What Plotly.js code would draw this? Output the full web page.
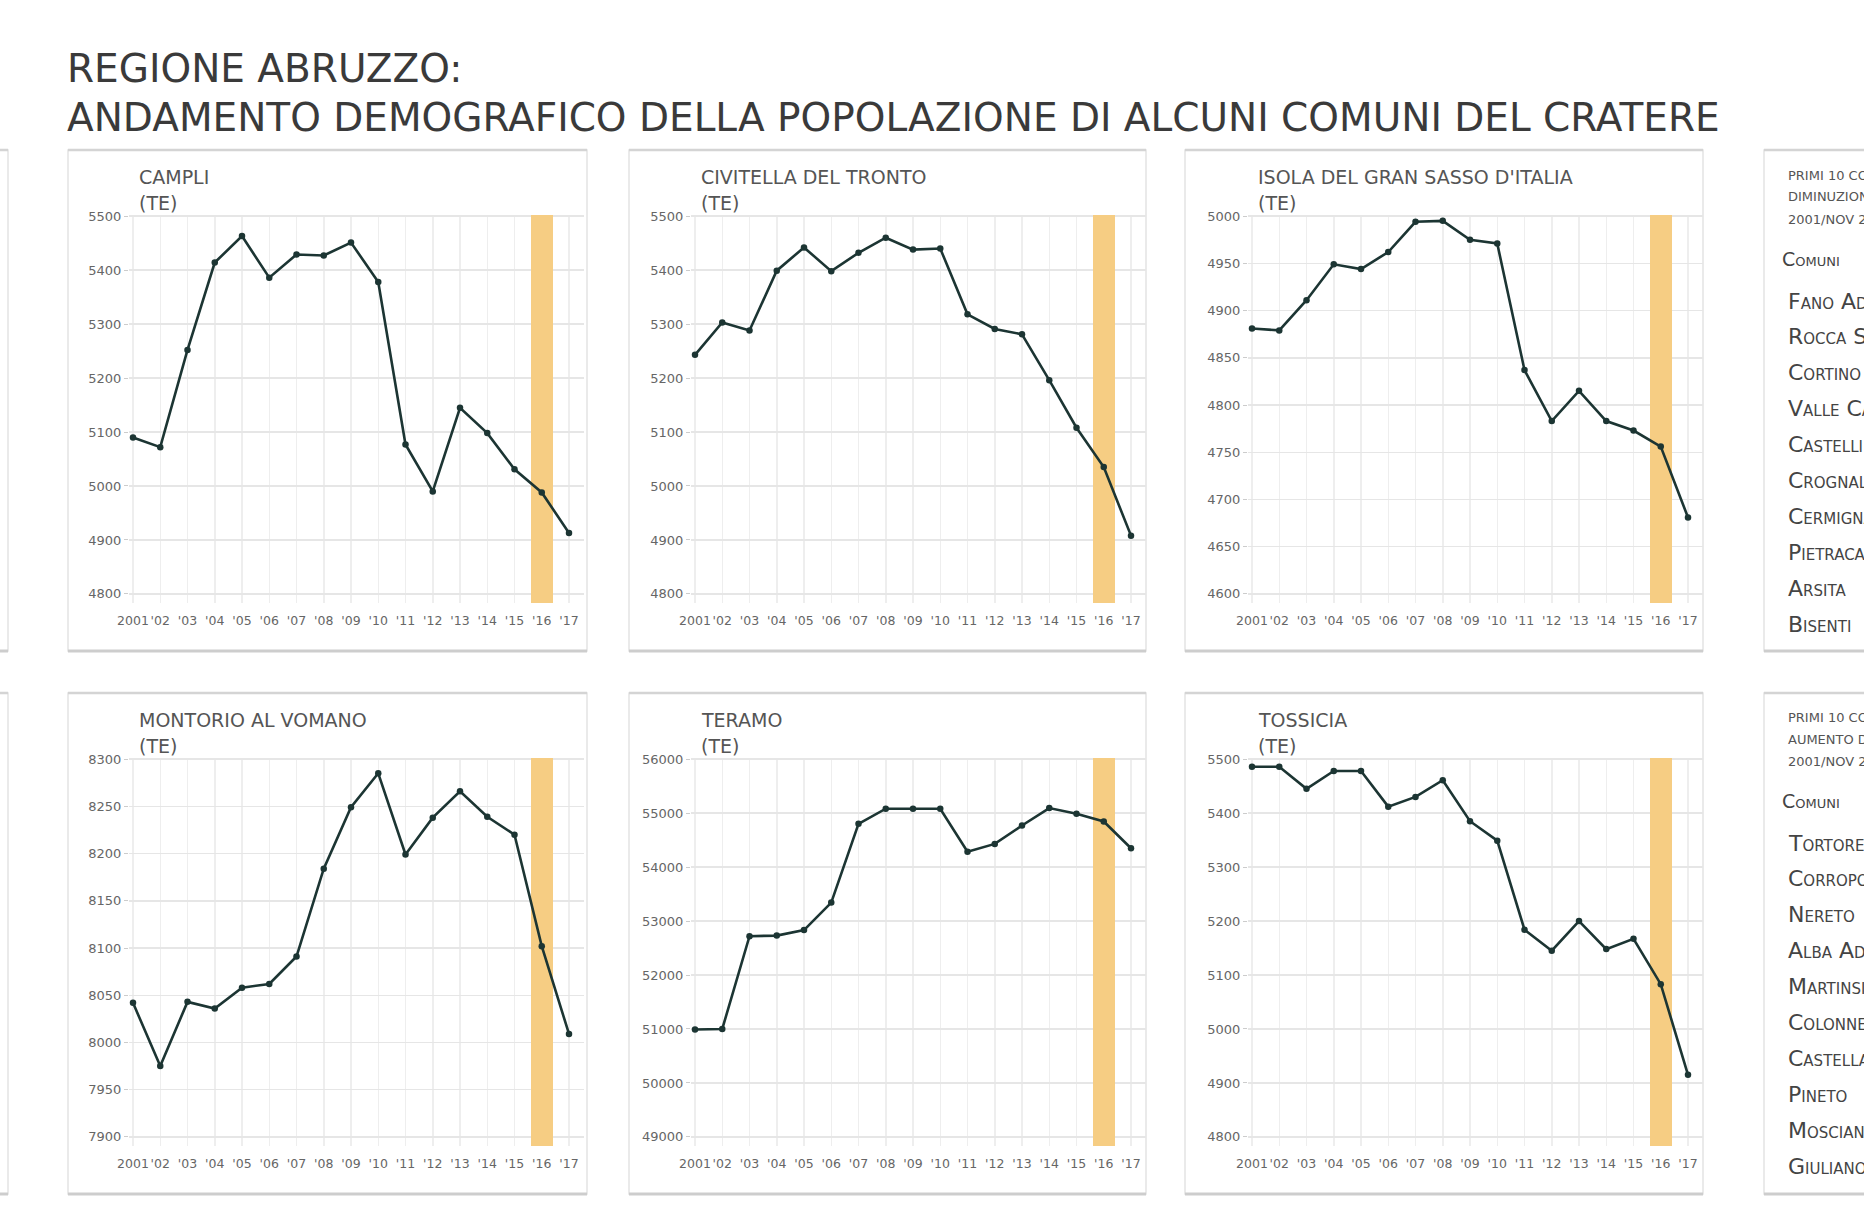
<!DOCTYPE html>
<html>
<head>
<meta charset="utf-8">
<script src="https://cdn.plot.ly/plotly-3.0.1.min.js"></script>
<style>
html,body{margin:0;padding:0;background:#fff;}
#chart{width:1864px;height:1209px;}
</style>
</head>
<body>
<div id="chart"></div>
<script>
// ---------- DATA ----------
const years = [2001,2002,2003,2004,2005,2006,2007,2008,2009,2010,2011,2012,2013,2014,2015,2016,2017];
const yearLabels = ["2001","'02","'03","'04","'05","'06","'07","'08","'09","'10","'11","'12","'13","'14","'15","'16","'17"];

const campli    = [5090,5072,5252,5414,5463,5386,5429,5427,5451,5378,5077,4990,5145,5098,5031,4988,4913];
const civitella = [5243,5303,5288,5399,5442,5398,5432,5460,5438,5440,5318,5291,5281,5196,5108,5035,4908];
const isola     = [4881,4879,4911,4949,4944,4962,4994,4995,4975,4971,4837,4783,4815,4783,4773,4756,4681];
const montorio  = [8042,7975,8043,8036,8058,8062,8091,8184,8249,8285,8199,8238,8266,8239,8220,8102,8009];
const teramo    = [50990,51000,52720,52730,52832,53342,54801,55081,55081,55081,54286,54429,54770,55093,54988,54845,54348];
const tossicia  = [5486,5486,5445,5478,5478,5412,5430,5461,5385,5349,5184,5145,5200,5148,5167,5083,4915];

const panelNames = ["CAMPLI","CIVITELLA DEL TRONTO","ISOLA DEL GRAN SASSO D'ITALIA","MONTORIO AL VOMANO","TERAMO","TOSSICIA"];
const panelProv  = ["(TE)","(TE)","(TE)","(TE)","(TE)","(TE)"];
const panelSeries = [campli, civitella, isola, montorio, teramo, tossicia];
// y axis tick ranges (min, max, step)
const yTickMin  = [4800, 4800, 4600, 7900, 49000, 4800];
const yTickMax  = [5500, 5500, 5000, 8300, 56000, 5500];
const yTickStep = [100, 100, 50, 50, 1000, 100];

const highlightYear = 2016;

const decreaseTitle = ["PRIMI 10 COMUNI PER","DIMINUZIONE DI POPOLAZIONE","2001/NOV 2017"];
const decreaseList = ["Fano Adriano","Rocca Santa Maria","Cortino","Valle Castellana","Castelli","Crognaleto","Cermignano","Pietracamela","Arsita","Bisenti"];
const increaseTitle = ["PRIMI 10 COMUNI PER","AUMENTO DI POPOLAZIONE","2001/NOV 2017"];
const increaseList = ["Tortoreto","Corropoli","Nereto","Alba Adriatica","Martinsicuro","Colonnella","Castellalto","Pineto","Mosciano Sant'Angelo","Giulianova"];
const tableHeader = "Comuni";

// ---------- LAYOUT GEOMETRY (pixels) ----------
const W = 1864, H = 1209;
const FONT = "DejaVu Sans";
const colX2001 = [133, 695, 1252];
const step = 27.25;
const rowTop = [215, 758];
const rowBot = [603, 1146];
const rowOff = [0, 543];
const cardX = [[68,587],[629,1146],[1185,1703]];
const cardY = [[150,651],[693,1194]];

const px = v => v / W;
const py = v => 1 - v / H;

const data = [];
const layout = {
  width: W, height: H,
  margin: {l:0, r:0, t:0, b:0},
  paper_bgcolor: "#ffffff",
  plot_bgcolor: "rgba(0,0,0,0)",
  showlegend: false,
  bargap: 0,
  font: {family: FONT, color: "#555"},
  shapes: [],
  annotations: []
};

function cardShapes(x0, x1, y0, y1) {
  layout.shapes.push({type:"rect", xref:"paper", yref:"paper", layer:"below",
    x0:px(x0), x1:px(x1), y0:py(y1), y1:py(y0),
    fillcolor:"#ffffff", line:{color:"#e4e4e4", width:1.5}});
  layout.shapes.push({type:"line", xref:"paper", yref:"paper", layer:"below",
    x0:px(x0), x1:px(x1), y0:py(y0), y1:py(y0), line:{color:"#d4d4d4", width:2.5}});
  layout.shapes.push({type:"line", xref:"paper", yref:"paper", layer:"below",
    x0:px(x0), x1:px(x1), y0:py(y1), y1:py(y1), line:{color:"#cdcdcd", width:3}});
}

// left partial cards and right table cards
for (let r = 0; r < 2; r++) {
  cardShapes(-40, 8, cardY[r][0], cardY[r][1]);
  cardShapes(1764, 1900, cardY[r][0], cardY[r][1]);
  for (let c = 0; c < 3; c++) cardShapes(cardX[c][0], cardX[c][1], cardY[r][0], cardY[r][1]);
}

for (let i = 0; i < 6; i++) {
  const r = Math.floor(i / 3), c = i % 3;
  const n = i + 1;
  const xa = n === 1 ? "xaxis" : "xaxis" + n;
  const ya = n === 1 ? "yaxis" : "yaxis" + n;
  const xr = n === 1 ? "x" : "x" + n;
  const yr = n === 1 ? "y" : "y" + n;
  const x0 = colX2001[c];
  const span = yTickMax[i] - yTickMin[i];
  const yLo = yTickMin[i] - 0.024 * span;
  const yHi = yTickMax[i] + 0.003 * span;

  layout[xa] = {
    domain: [px(x0 - 0.15 * step), px(x0 + 16.55 * step)],
    range: [2000.85, 2017.55],
    anchor: yr,
    tickmode: "array", tickvals: years, ticktext: yearLabels, tickangle: 0,
    tickfont: {family: FONT, size: 12.5, color: "#666"},
    showgrid: true, gridcolor: "#eeeeee", gridwidth: 1.5,
    zeroline: false, showline: false,
    ticks: "outside", ticklen: 6, tickcolor: "rgba(0,0,0,0)", fixedrange: true
  };
  layout[ya] = {
    domain: [py(rowBot[r]), py(rowTop[r])],
    range: [yLo, yHi],
    anchor: xr,
    tick0: yTickMin[i], dtick: yTickStep[i], tickformat: "d",
    tickfont: {family: FONT, size: 13, color: "#666"},
    showgrid: true, gridcolor: "#e6e6e6", gridwidth: 1.5,
    zeroline: false, showline: false,
    ticks: "outside", ticklen: 4, tickcolor: "#cccccc", fixedrange: true
  };

  // highlighted year band (drawn above gridlines, below the line)
  data.push({
    type: "bar", x: [highlightYear], y: [yHi - yLo], base: [yLo], width: 0.8,
    xaxis: xr, yaxis: yr, marker: {color: "#f6cd83", line: {width: 0}},
    hoverinfo: "skip"
  });

  data.push({
    type: "scatter", mode: "lines+markers",
    x: years, y: panelSeries[i], xaxis: xr, yaxis: yr,
    line: {color: "#1c3533", width: 2.6},
    marker: {color: "#1c3533", size: 6.5},
    hoverinfo: "x+y"
  });

  layout.annotations.push({xref:"paper", yref:"paper", x:px(x0 + 4), y:py(177 + rowOff[r]),
    xanchor:"left", yanchor:"middle", showarrow:false, text: panelNames[i],
    font:{family: FONT, size: 19, color:"#555"}});
  layout.annotations.push({xref:"paper", yref:"paper", x:px(x0 + 4), y:py(203 + rowOff[r]),
    xanchor:"left", yanchor:"middle", showarrow:false, text: panelProv[i],
    font:{family: FONT, size: 19, color:"#555"}});
}

// Main title
layout.annotations.push({xref:"paper", yref:"paper", x:px(65), y:py(69),
  xanchor:"left", yanchor:"middle", showarrow:false, text:"REGIONE ABRUZZO:",
  font:{family: FONT, size: 39, color:"#3a3a3a"}});
layout.annotations.push({xref:"paper", yref:"paper", x:px(65), y:py(117),
  xanchor:"left", yanchor:"middle", showarrow:false,
  text:"ANDAMENTO DEMOGRAFICO DELLA POPOLAZIONE DI ALCUNI COMUNI DEL CRATERE",
  font:{family: FONT, size: 39, color:"#3a3a3a"}});

// Right tables (clipped by the page edge, as in the reference)
function table(titleLines, list, off) {
  const ty = [175, 197, 220];
  titleLines.forEach((t, k) => layout.annotations.push({xref:"paper", yref:"paper",
    x:px(1786), y:py(ty[k] + off), xanchor:"left", yanchor:"middle", showarrow:false,
    text:t, font:{family: FONT, size: 13, color:"#555"}}));
  layout.annotations.push({xref:"paper", yref:"paper", x:px(1780), y:py(259 + off),
    xanchor:"left", yanchor:"middle", showarrow:false, text: tableHeader,
    font:{family: FONT, size: 19, color:"#444", variant:"small-caps"}});
  list.forEach((t, k) => layout.annotations.push({xref:"paper", yref:"paper",
    x:px(1786), y:py(301 + k * 35.9 + off), xanchor:"left", yanchor:"middle", showarrow:false,
    text:t, font:{family: FONT, size: 22, color:"#444", variant:"small-caps"}}));
}
table(decreaseTitle, decreaseList, 0);
table(increaseTitle, increaseList, 542);

Plotly.newPlot("chart", data, layout, {displayModeBar:false, staticPlot:true});
</script>
</body>
</html>
